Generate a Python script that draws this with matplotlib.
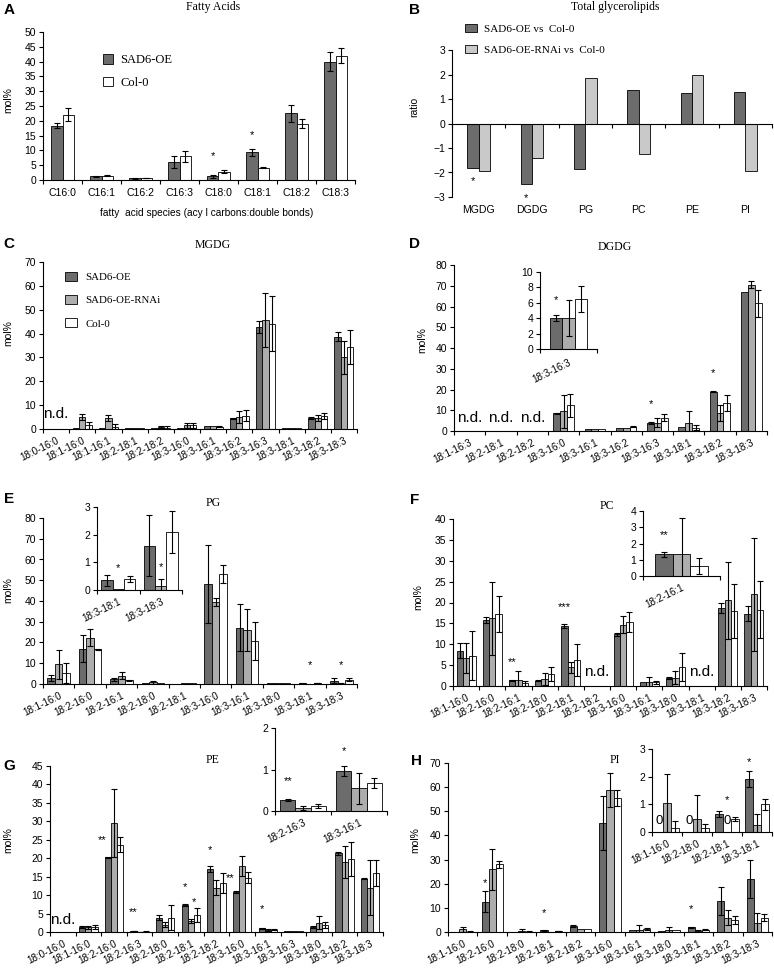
import numpy as np
import matplotlib
matplotlib.use('Agg')
import matplotlib.pyplot as plt
from matplotlib.transforms import blended_transform_factory
from matplotlib.ticker import FormatStrFormatter

nan = np.nan

# ---------------- DATA ----------------
# A: fatty acids
fa_cats = ['C16:0', 'C16:1', 'C16:2', 'C16:3', 'C18:0', 'C18:1', 'C18:2', 'C18:3']
fa_oe = [18.3, 1.2, 0.6, 6.0, 1.2, 9.3, 22.5, 40.0]
fa_oe_err = [0.9, 0.3, 0.1, 2.1, 0.4, 1.3, 3.0, 3.3]
fa_col = [22.0, 1.5, 0.7, 8.0, 2.8, 4.2, 19.0, 42.0]
fa_col_err = [2.2, 0.1, 0.1, 1.8, 0.6, 0.2, 1.5, 2.5]

# B: total glycerolipids ratios
tg_cats = ['MGDG', 'DGDG', 'PG', 'PC', 'PE', 'PI']
tg_oe = [-1.8, -2.45, -1.85, 1.35, 1.25, 1.3]
tg_rnai = [-1.95, -1.4, 1.85, -1.25, 2.0, -1.95]

# C: MGDG
mgdg_cats = ['18:0-16:0', '18:1-16:0', '18:1-16:1', '18:2-18:1', '18:2-18:2', '18:3-16:0',
             '18:3-16:1', '18:3-16:2', '18:3-16:3', '18:3-18:1', '18:3-18:2', '18:3-18:3']
mgdg_oe = [nan, 0.5, 0.5, 0.3, 0.3, 0.3, 1.3, 4.5, 42.8, 0.3, 4.5, 38.7]
mgdg_oe_err = [0, 0, 0, 0, 0, 0, 0, 0.3, 2.5, 0, 0.5, 1.8]
mgdg_rnai = [nan, 5.0, 4.5, 0.3, 0.8, 1.5, 1.3, 5.0, 45.8, 0.3, 4.5, 30.0]
mgdg_rnai_err = [0, 1.3, 1.2, 0, 0.5, 0.9, 0, 2.5, 11.3, 0, 1.2, 6.8]
mgdg_col = [nan, 1.5, 1.0, 0.3, 0.6, 1.5, 1.0, 5.5, 44.2, 0.3, 5.5, 34.5]
mgdg_col_err = [0, 1.5, 1.0, 0, 0.6, 1.2, 0.3, 2.3, 11.5, 0, 1.3, 7.2]

# D: DGDG
dgdg_cats = ['18:1-16:3', '18:2-18:1', '18:2-18:2', '18:3-16:0', '18:3-16:1', '18:3-16:2',
             '18:3-16:3', '18:3-18:1', '18:3-18:2', '18:3-18:3']
dgdg_oe = [nan, nan, nan, 8.5, 0.8, 1.5, 4.0, 2.0, 19.0, 67.0]
dgdg_oe_err = [0, 0, 0, 0.3, 0, 0, 0.4, 0, 0.3, 0]
dgdg_rnai = [nan, nan, nan, 9.5, 0.8, 1.3, 4.0, 4.0, 8.5, 70.5]
dgdg_rnai_err = [0, 0, 0, 8.0, 0, 0, 2.3, 5.5, 3.8, 1.7]
dgdg_col = [nan, nan, nan, 12.3, 0.8, 2.0, 6.5, 1.5, 13.5, 61.5]
dgdg_col_err = [0, 0, 0, 5.5, 0, 0.3, 1.7, 1.2, 4.0, 6.5]

# E: PG
pg_cats = ['18:1-16:0', '18:2-16:0', '18:2-16:1', '18:2-18:0', '18:2-18:1', '18:3-16:0',
           '18:3-16:1', '18:3-18:0', '18:3-18:1', '18:3-18:3']
pg_oe = [2.8, 17.0, 2.2, 0.3, 0.2, 48.2, 27.2, 0.3, 0.35, 1.6]
pg_oe_err = [1.5, 6.5, 0.8, 0, 0, 19.0, 11.2, 0, 0.2, 1.1]
pg_rnai = [9.5, 22.3, 4.0, 0.8, 0.3, 39.5, 26.0, 0.3, 0.05, 0.15]
pg_rnai_err = [7.0, 4.2, 1.8, 0.7, 0, 2.0, 10.0, 0, 0, 0.25]
pg_col = [5.3, 16.8, 1.8, 0.3, 0.6, 53.0, 20.8, 0.3, 0.4, 2.1]
pg_col_err = [4.7, 0.3, 0.3, 0, 0, 4.5, 9.3, 0, 0.12, 0.75]

# F: PC
pc_cats = ['18:1-16:0', '18:2-16:0', '18:2-16:1', '18:2-18:0', '18:2-18:1', '18:2-18:2',
           '18:3-16:0', '18:3-16:1', '18:3-18:0', '18:3-18:1', '18:3-18:2', '18:3-18:3']
pc_oe = [8.5, 15.8, 1.35, 1.3, 14.3, nan, 12.4, 1.0, 1.9, nan, 18.8, 17.3]
pc_oe_err = [1.8, 0.8, 0.15, 0.2, 0.5, 0, 0.4, 0, 0.3, 0, 1.2, 1.8]
pc_rnai = [6.7, 16.2, 1.35, 1.6, 4.5, nan, 14.7, 0.9, 2.0, nan, 20.5, 22.0]
pc_rnai_err = [3.5, 8.8, 2.25, 1.4, 1.3, 0, 2.1, 1.2, 1.6, 0, 9.3, 13.5]
pc_col = [7.3, 17.3, 0.6, 2.8, 6.2, nan, 15.4, 0.9, 4.5, nan, 18.0, 18.3]
pc_col_err = [5.9, 4.3, 0.5, 1.7, 3.8, 0, 2.4, 0.4, 3.4, 0, 6.5, 6.8]

# G: PE
pe_cats = ['18:0-16:0', '18:1-16:0', '18:2-16:0', '18:2-16:3', '18:2-18:0', '18:2-18:1', '18:2-18:2',
           '18:3-16:0', '18:3-16:1', '18:3-16:3', '18:3-18:0', '18:3-18:2', '18:3-18:3']
pe_oe = [nan, 1.3, 20.2, 0.27, 3.9, 7.3, 17.0, 10.8, 0.97, 0.3, 1.3, 21.3, 14.5]
pe_oe_err = [0, 0.3, 0.2, 0.02, 0.6, 0.2, 0.8, 0.2, 0.12, 0, 0.2, 0.5, 0.2]
pe_rnai = [nan, 1.3, 29.5, 0.07, 2.0, 3.0, 12.0, 18.0, 0.55, 0.3, 2.5, 19.0, 12.0]
pe_rnai_err = [0, 0.4, 9.3, 0.05, 0.7, 0.5, 2.0, 2.7, 0.37, 0, 1.8, 4.3, 7.5]
pe_col = [nan, 1.3, 23.7, 0.13, 3.9, 4.6, 13.3, 14.7, 0.67, 0.3, 2.0, 19.8, 16.0]
pe_col_err = [0, 0.6, 2.0, 0.05, 3.3, 1.9, 2.7, 1.5, 0.12, 0, 0.8, 4.5, 3.5]

# H: PI
pi_cats = ['18:1-16:0', '18:2-16:0', '18:2-18:0', '18:2-18:1', '18:2-18:2', '18:3-16:0',
           '18:3-16:1', '18:3-18:0', '18:3-18:1', '18:3-18:2', '18:3-18:3']
pi_oe = [0, 12.5, 0, 0.65, 2.5, 45.0, 0.8, 0.5, 1.92, 13.0, 22.0]
pi_oe_err = [0, 4.3, 0, 0.12, 0.5, 11.2, 0, 0, 0.3, 5.8, 8.0]
pi_rnai = [1.05, 26.0, 0.48, 0, 1.2, 58.8, 1.0, 1.0, 0.25, 6.0, 3.7]
pi_rnai_err = [1.05, 8.5, 0.87, 0, 0, 7.0, 2.0, 1.0, 0.4, 3.0, 4.0]
pi_col = [0.15, 28.0, 0.15, 0.48, 1.2, 55.5, 1.2, 0.8, 1.0, 5.0, 6.0]
pi_col_err = [0.25, 1.5, 0.15, 0.07, 0, 3.2, 0.5, 0, 0.2, 1.5, 1.6]

series_names = ['SAD6-OE', 'SAD6-OE-RNAi', 'Col-0']

# ---------------- STYLE ----------------
W, H = 774, 971
fig = plt.figure(figsize=(W / 100, H / 100), dpi=100)
SANS = 'Liberation Sans'
SERIF = 'Liberation Serif'
DARK = '#6c6c6c'
LIGHT = '#adadad'
LIGHT_B = '#c9c9c9'
WHITE = '#ffffff'
COLS3 = [DARK, LIGHT, WHITE]
ROT = 26


def px_axes(l, t, r, b):
    ax = fig.add_axes([l / W, 1 - b / H, (r - l) / W, (b - t) / H])
    ax.patch.set_alpha(0)
    return ax


def ftext(x, y, s, **kw):
    return fig.text(x / W, 1 - y / H, s, **kw)


def style(ax, cats, ymax, ystep, rot=True, fs=7.1, pad=4.5):
    n = len(cats)
    ax.set_xlim(-0.5, n - 0.5)
    ax.set_ylim(0, ymax)
    ax.set_yticks(np.arange(0, ymax + ystep / 2, ystep))
    ax.yaxis.set_major_formatter(FormatStrFormatter('%g'))
    for s in ['top', 'right']:
        ax.spines[s].set_visible(False)
    for s in ['left', 'bottom']:
        ax.spines[s].set_linewidth(0.8)
    ax.set_xticks(np.arange(n + 1) - 0.5)
    ax.set_xticklabels([])
    ax.tick_params(axis='x', which='major', direction='out', length=3, width=0.8)
    ax.set_xticks(np.arange(n), minor=True)
    if rot:
        ax.set_xticklabels(cats, minor=True, rotation=ROT, ha='right', va='top',
                           rotation_mode='anchor', fontsize=fs, family=SANS)
    else:
        ax.set_xticklabels(cats, minor=True, fontsize=7.6, family=SANS)
    ax.tick_params(axis='x', which='minor', length=0, pad=pad)
    ax.tick_params(axis='y', direction='out', length=3, width=0.8, labelsize=7.5, pad=2)
    for lab in ax.get_yticklabels():
        lab.set_family(SANS)


def bars(ax, idx, series, errs, colors, width):
    n = len(series)
    x = np.arange(len(idx))
    conts = []
    for i, (v, e, c) in enumerate(zip(series, errs, colors)):
        v = np.asarray(v, float)[idx]
        e = np.asarray(e, float)[idx]
        xs = x + (i - (n - 1) / 2) * width
        conts.append(ax.bar(xs, v, width, color=c, edgecolor='black', linewidth=0.6, zorder=2))
        m = e > 0
        ax.errorbar(xs[m], v[m], yerr=e[m], fmt='none', ecolor='black', elinewidth=0.8,
                    capsize=2.0, capthick=0.8, zorder=3)
    return conts


def stars(ax, items, nser, width, fs=8):
    for cat, ser, y, s in items:
        x = cat + (ser - (nser - 1) / 2) * width
        ax.text(x, y, s, ha='center', va='center', fontsize=fs, family=SANS, zorder=5)


def nd(ax, cats_idx, y):
    for c in cats_idx:
        ax.text(c, y, 'n.d.', ha='center', va='center', fontsize=11, family=SANS)


def ylab(x, y, s='mol%'):
    ftext(x, y, s, rotation=90, ha='center', va='center', fontsize=7.5, family=SANS)


def letter(x, y, s):
    ftext(x, y, s, ha='center', va='center', fontsize=11, fontweight='bold', family=SANS)


def title(x, y, s):
    ftext(x, y, s, ha='center', va='center', fontsize=8.5, family=SERIF)


# ---------------- A ----------------
axA = px_axes(43, 32, 355, 180)
wA = 0.29
cA = bars(axA, np.arange(len(fa_cats)), [fa_oe, fa_col], [fa_oe_err, fa_col_err], [DARK, WHITE], wA)
style(axA, fa_cats, 50, 5, rot=False)
axA.tick_params(axis='x', which='minor', pad=6)
stars(axA, [(4, 0, 8.0, '*'), (5, 0, 15.2, '*')], 2, wA)
axA.legend(cA, ['SAD6-OE', 'Col-0'], loc='upper left', bbox_to_anchor=(103 / W, 1 - 54 / H),
           bbox_transform=fig.transFigure, frameon=False, prop={'family': SERIF, 'size': 9},
           handlelength=0.8, handleheight=0.8, handletextpad=0.6, labelspacing=0.85,
           borderpad=0, borderaxespad=0)
title(213, 7, 'Fatty Acids')
letter(9, 10, 'A')
ylab(8, 100)
ftext(207, 213, 'fatty  acid species (acy l carbons:double bonds)', ha='center', va='center',
      fontsize=7.3, family=SANS)

# ---------------- B ----------------
axB = px_axes(452, 50, 772, 197)
xB = np.arange(len(tg_cats))
wB = 0.21
b1 = axB.bar(xB - wB / 2, tg_oe, wB, color=DARK, edgecolor='black', linewidth=0.6)
b2 = axB.bar(xB + wB / 2, tg_rnai, wB, color=LIGHT_B, edgecolor='black', linewidth=0.6)
axB.set_xlim(-0.5, len(tg_cats) - 0.5)
axB.set_ylim(-3, 3)
axB.set_yticks(np.arange(-3, 4, 1))
for s in ['top', 'right']:
    axB.spines[s].set_visible(False)
axB.spines['bottom'].set_position(('data', 0))
axB.spines['bottom'].set_linewidth(0.8)
axB.spines['left'].set_linewidth(0.8)
axB.set_xticks(np.arange(len(tg_cats) + 1) - 0.5)
axB.set_xticklabels([])
axB.tick_params(axis='x', direction='out', length=3, width=0.8)
axB.tick_params(axis='y', direction='out', length=3, width=0.8, labelsize=7.5, pad=2)
for lab in axB.get_yticklabels():
    lab.set_family(SANS)
trB = blended_transform_factory(axB.transData, axB.transAxes)
for i, c in enumerate(tg_cats):
    axB.text(i, -0.088, c, transform=trB, ha='center', va='center', fontsize=7.6, family=SANS)
stars(axB, [(0, 0, -2.35, '*'), (1, 0, -3.05, '*')], 2, wB)
axB.legend([b1, b2], ['SAD6-OE vs  Col-0', 'SAD6-OE-RNAi vs  Col-0'], loc='upper left',
           bbox_to_anchor=(465 / W, 1 - 24 / H), bbox_transform=fig.transFigure, frameon=False,
           prop={'family': SERIF, 'size': 8}, handlelength=1.1, handleheight=0.8,
           handletextpad=0.6, labelspacing=0.95, borderpad=0, borderaxespad=0)
title(615, 7, 'Total glycerolipids')
letter(415, 10, 'B')
ylab(414, 107, 'ratio')

# ---------------- C ----------------
w3 = 0.24
axC = px_axes(43, 262, 357, 429)
cC = bars(axC, np.arange(len(mgdg_cats)), [mgdg_oe, mgdg_rnai, mgdg_col],
          [mgdg_oe_err, mgdg_rnai_err, mgdg_col_err], COLS3, w3)
style(axC, mgdg_cats, 70, 10)
nd(axC, [0], 6.3)
axC.legend(cC, series_names, loc='upper left', bbox_to_anchor=(65 / W, 1 - 272 / H),
           bbox_transform=fig.transFigure, frameon=False, prop={'family': SERIF, 'size': 7.8},
           handlelength=1.1, handleheight=0.9, handletextpad=0.8, labelspacing=1.2,
           borderpad=0, borderaxespad=0)
title(213, 245, 'MGDG')
letter(9, 244, 'C')
ylab(8, 333)

# ---------------- D ----------------
axD = px_axes(454, 265, 767, 431)
bars(axD, np.arange(len(dgdg_cats)), [dgdg_oe, dgdg_rnai, dgdg_col],
     [dgdg_oe_err, dgdg_rnai_err, dgdg_col_err], COLS3, 0.22)
style(axD, dgdg_cats, 80, 10)
nd(axD, [0, 1, 2], 6.5)
stars(axD, [(6, 0, 13.0, '*'), (8, 0, 27.8, '*')], 3, 0.22)
title(615, 247, 'DGDG')
letter(415, 244, 'D')
ylab(422, 340)

axDi = px_axes(540, 272, 597, 349)
iD = np.array([6])
bars(axDi, iD, [dgdg_oe, dgdg_rnai, dgdg_col], [dgdg_oe_err, dgdg_rnai_err, dgdg_col_err], COLS3, 0.22)
style(axDi, [dgdg_cats[i] for i in iD], 10, 2, pad=6)
stars(axDi, [(0, 0, 6.4, '*')], 3, 0.22)

# ---------------- E ----------------
axE = px_axes(43, 518, 357, 684)
bars(axE, np.arange(len(pg_cats)), [pg_oe, pg_rnai, pg_col], [pg_oe_err, pg_rnai_err, pg_col_err], COLS3, w3)
style(axE, pg_cats, 80, 10)
stars(axE, [(8, 1, 9.2, '*'), (9, 1, 9.2, '*')], 3, w3)
title(213, 503, 'PG')
letter(9, 499, 'E')
ylab(8, 590)

axEi = px_axes(97, 507, 182, 590)
iE = np.array([8, 9])
bars(axEi, iE, [pg_oe, pg_rnai, pg_col], [pg_oe_err, pg_rnai_err, pg_col_err], COLS3, 0.27)
style(axEi, [pg_cats[i] for i in iE], 3, 1, pad=5)
stars(axEi, [(0, 1, 0.78, '*'), (1, 1, 0.84, '*')], 3, 0.27)

# ---------------- F ----------------
axF = px_axes(453, 519, 767, 686)
bars(axF, np.arange(len(pc_cats)), [pc_oe, pc_rnai, pc_col], [pc_oe_err, pc_rnai_err, pc_col_err], COLS3, w3)
style(axF, pc_cats, 40, 5)
nd(axF, [5, 9], 3.3)
stars(axF, [(2, 0, 5.8, '**'), (4, 0, 19.0, '***')], 3, w3)
title(607, 506, 'PC')
letter(415, 500, 'F')
ylab(418, 597)

axFi = px_axes(643, 511, 720, 576)
iF = np.array([2])
bars(axFi, iF, [pc_oe, pc_rnai, pc_col], [pc_oe_err, pc_rnai_err, pc_col_err], COLS3, 0.23)
style(axFi, [pc_cats[i] for i in iF], 4, 1, pad=5)
stars(axFi, [(0, 0, 2.5, '**')], 3, 0.23)

# ---------------- G ----------------
axG = px_axes(50, 766, 383, 932)
bars(axG, np.arange(len(pe_cats)), [pe_oe, pe_rnai, pe_col], [pe_oe_err, pe_rnai_err, pe_col_err], COLS3, w3)
style(axG, pe_cats, 45, 5)
nd(axG, [0], 3.3)
stars(axG, [(2, -0.9, 24.8, '**'), (3, 0, 5.4, '**'), (5, 0, 12.2, '*'), (5, 1.5, 8.1, '*'),
            (6, 0, 22.1, '*'), (7, -0.9, 14.5, '**'), (8, 0, 6.1, '*')], 3, w3)
title(213, 760, 'PE')
letter(9, 766, 'G')
ylab(8, 840)

axGi = px_axes(275, 728, 387, 811)
iG = np.array([3, 8])
bars(axGi, iG, [pe_oe, pe_rnai, pe_col], [pe_oe_err, pe_rnai_err, pe_col_err], COLS3, 0.27)
style(axGi, [pe_cats[i] for i in iG], 2, 1, pad=5)
stars(axGi, [(0, 0, 0.71, '**'), (1, 0, 1.44, '*')], 3, 0.27)

# ---------------- H ----------------
axH = px_axes(448, 763, 772, 932)
bars(axH, np.arange(len(pi_cats)), [pi_oe, pi_rnai, pi_col], [pi_oe_err, pi_rnai_err, pi_col_err], COLS3, w3)
style(axH, pi_cats, 70, 10)
stars(axH, [(1, 0, 20.3, '*'), (3, 0, 7.9, '*'), (8, 0, 9.5, '*')], 3, w3)
title(615, 760, 'PI')
letter(417, 761, 'H')
ylab(415, 840)

axHi = px_axes(652, 749, 772, 832)
iH = np.array([0, 2, 3, 8])
wHi = 0.27
hser = [pi_oe, pi_rnai, pi_col]
bars(axHi, iH, hser, [pi_oe_err, pi_rnai_err, pi_col_err], COLS3, wHi)
style(axHi, [pi_cats[i] for i in iH], 3, 1, pad=5)
for k, ci in enumerate(iH):
    for si, sv in enumerate(hser):
        if sv[ci] == 0:
            axHi.text(k + (si - 1) * wHi, 0.4, '0', ha='center', va='center', fontsize=9.5, family=SANS)
stars(axHi, [(2, 1, 1.15, '*'), (3, 0, 2.54, '*')], 3, wHi)

fig.savefig('out.png', dpi=100)
